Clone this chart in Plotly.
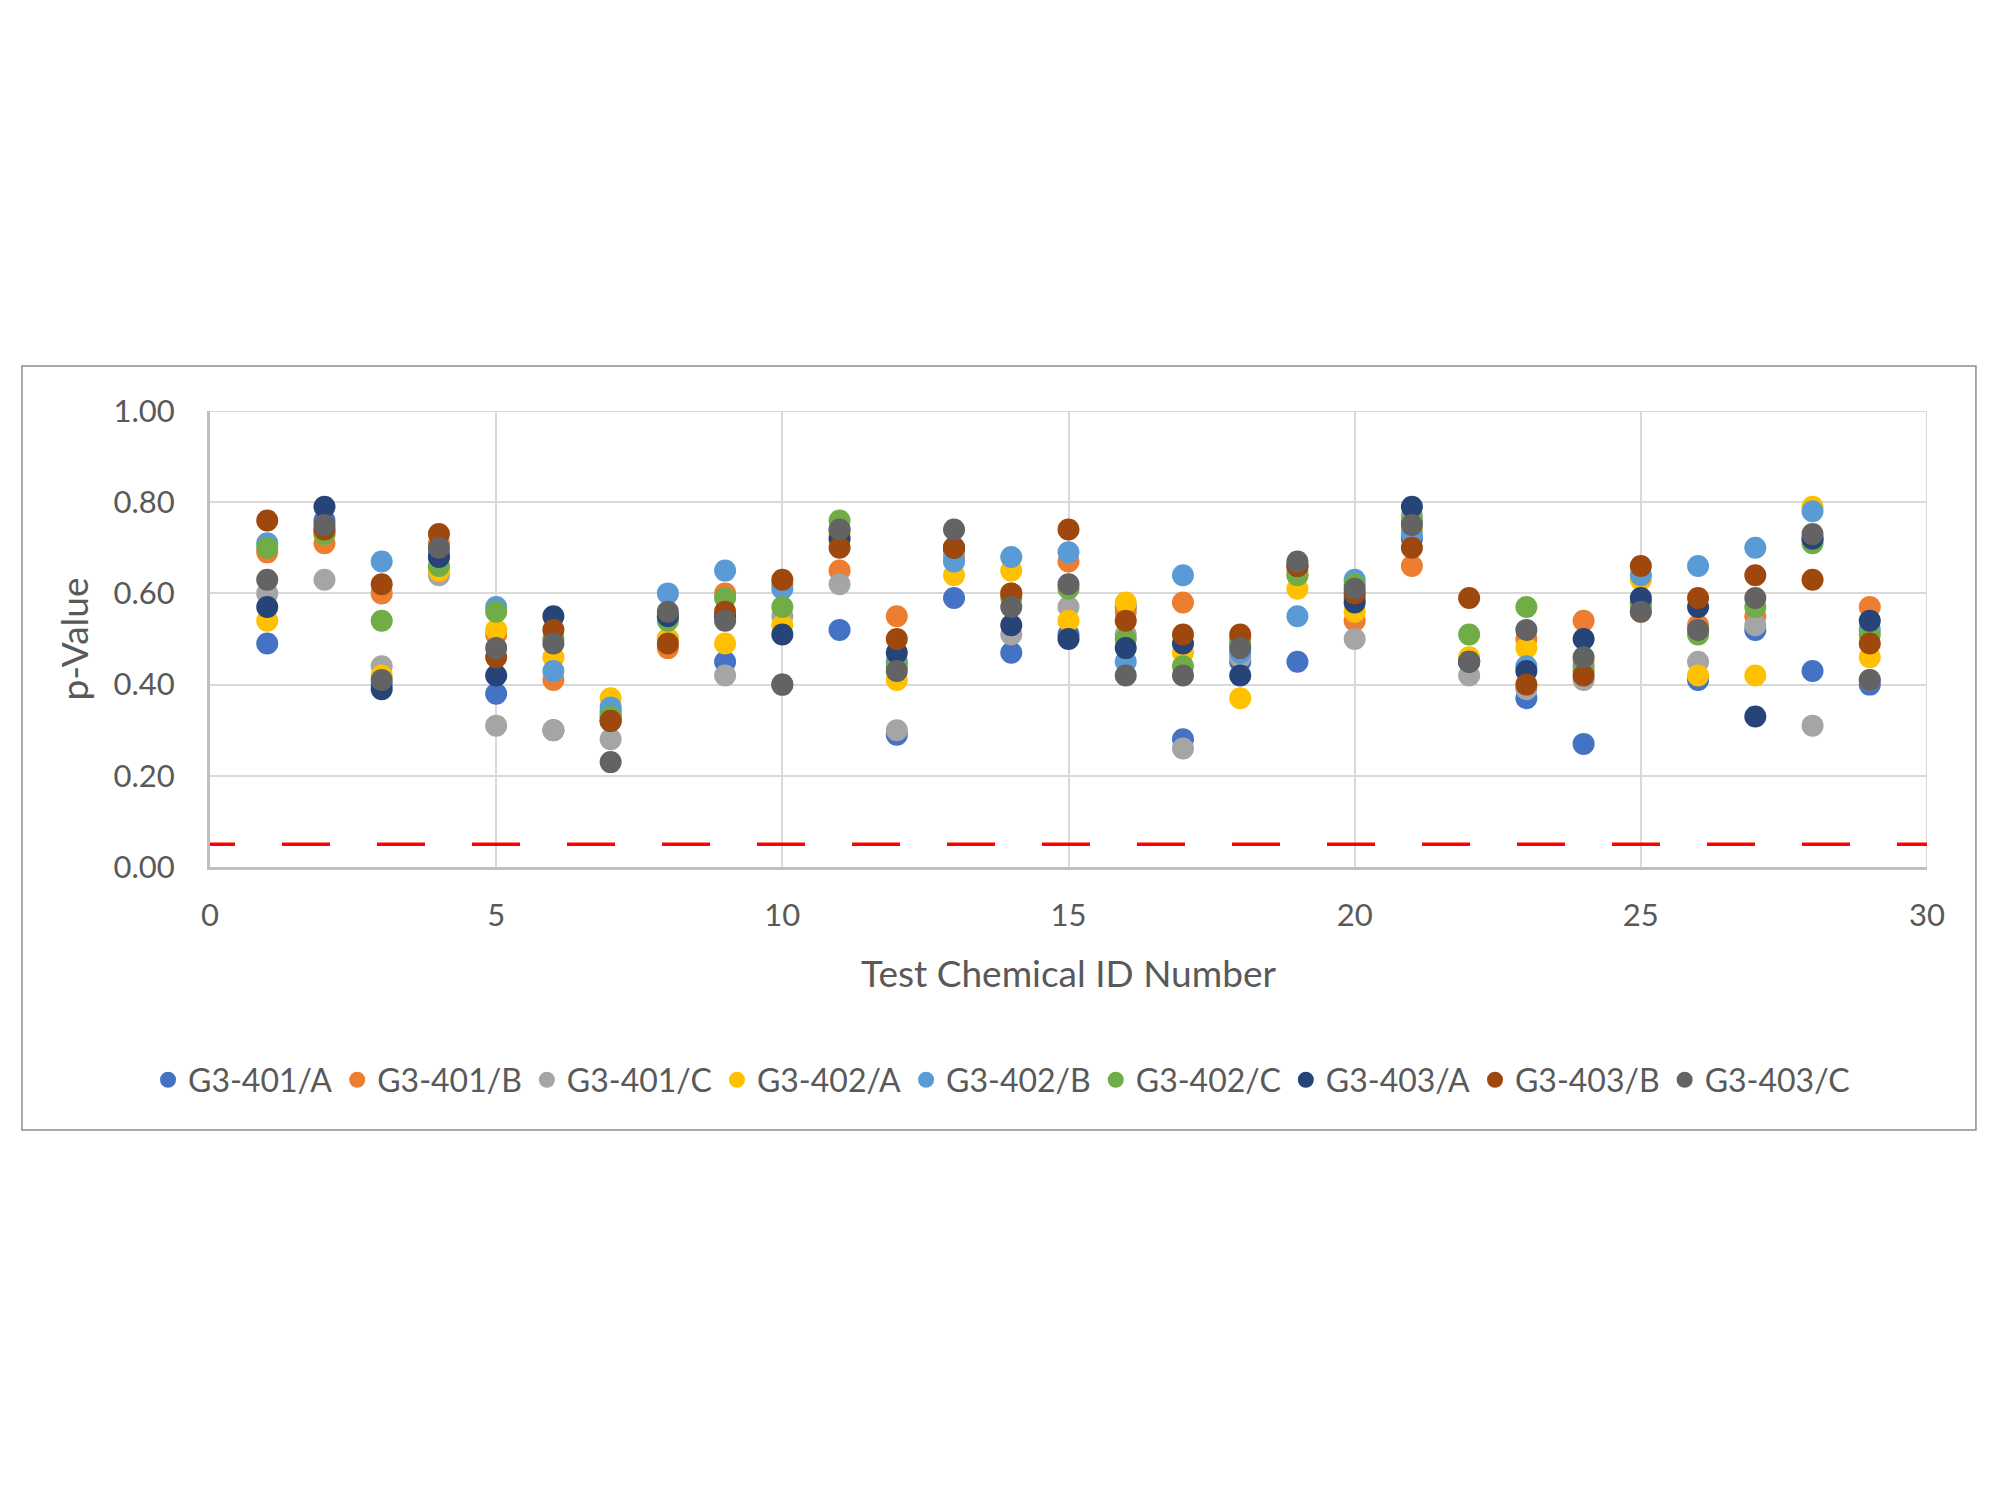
import plotly.graph_objects as go

chem_ids = list(range(1, 30))

series_names = ["G3-401/A", "G3-401/B", "G3-401/C", "G3-402/A", "G3-402/B",
                "G3-402/C", "G3-403/A", "G3-403/B", "G3-403/C"]
colors = ["#4472C4", "#ED7D31", "#A5A5A5", "#FFC000", "#5B9BD5",
          "#70AD47", "#264478", "#9E480E", "#636363"]

g401_a = [0.49, 0.76, 0.40, 0.68, 0.38, 0.30, 0.34, 0.50, 0.45, 0.40, 0.52, 0.29, 0.59, 0.47, 0.51,
          0.57, 0.28, 0.45, 0.45, 0.59, 0.72, 0.45, 0.37, 0.27, 0.58, 0.41, 0.52, 0.43, 0.40]
g401_b = [0.69, 0.71, 0.60, 0.71, 0.51, 0.41, 0.33, 0.48, 0.60, 0.62, 0.65, 0.55, 0.68, 0.60, 0.67,
          0.56, 0.58, 0.50, 0.64, 0.54, 0.66, 0.45, 0.50, 0.54, 0.56, 0.53, 0.55, 0.72, 0.57]
g401_c = [0.60, 0.63, 0.44, 0.64, 0.31, 0.30, 0.28, 0.55, 0.42, 0.55, 0.62, 0.30, 0.69, 0.51, 0.57,
          0.51, 0.26, 0.46, 0.65, 0.50, 0.77, 0.42, 0.39, 0.41, 0.57, 0.45, 0.53, 0.31, 0.41]
g402_a = [0.54, 0.73, 0.42, 0.65, 0.52, 0.46, 0.37, 0.50, 0.49, 0.53, 0.73, 0.41, 0.64, 0.65, 0.54,
          0.58, 0.47, 0.37, 0.61, 0.56, 0.74, 0.46, 0.48, 0.45, 0.63, 0.42, 0.42, 0.79, 0.46]
g402_b = [0.71, 0.74, 0.67, 0.69, 0.57, 0.43, 0.35, 0.60, 0.65, 0.61, 0.74, 0.45, 0.67, 0.68, 0.69,
          0.45, 0.64, 0.47, 0.55, 0.63, 0.73, 0.45, 0.44, 0.44, 0.64, 0.66, 0.70, 0.78, 0.52]
g402_c = [0.70, 0.73, 0.54, 0.66, 0.56, 0.50, 0.33, 0.54, 0.59, 0.57, 0.76, 0.44, 0.70, 0.59, 0.61,
          0.50, 0.44, 0.49, 0.64, 0.62, 0.76, 0.51, 0.57, 0.43, 0.58, 0.51, 0.57, 0.71, 0.51]
g403_a = [0.57, 0.79, 0.39, 0.68, 0.42, 0.55, 0.32, 0.55, 0.55, 0.51, 0.72, 0.47, 0.70, 0.53, 0.50,
          0.48, 0.49, 0.42, 0.66, 0.58, 0.79, 0.45, 0.43, 0.50, 0.59, 0.57, 0.33, 0.72, 0.54]
g403_b = [0.76, 0.74, 0.62, 0.73, 0.46, 0.52, 0.32, 0.49, 0.56, 0.63, 0.70, 0.50, 0.70, 0.60, 0.74,
          0.54, 0.51, 0.51, 0.66, 0.60, 0.70, 0.59, 0.40, 0.42, 0.66, 0.59, 0.64, 0.63, 0.49]
g403_c = [0.63, 0.75, 0.41, 0.70, 0.48, 0.49, 0.23, 0.56, 0.54, 0.40, 0.74, 0.43, 0.74, 0.57, 0.62,
          0.42, 0.42, 0.48, 0.67, 0.61, 0.75, 0.45, 0.52, 0.46, 0.56, 0.52, 0.59, 0.73, 0.41]

all_series = [g401_a, g401_b, g401_c, g402_a, g402_b, g402_c, g403_a, g403_b, g403_c]

threshold_x = [0, 30]
threshold_y = [0.05, 0.05]

FONT = "Lato"
TXT = "#595959"
GRID = "#D9D9D9"
AXIS = "#BFBFBF"

fig = go.Figure()
for name, col, vals in zip(series_names, colors, all_series):
    fig.add_trace(go.Scatter(x=chem_ids, y=vals, mode="markers", name=name,
                             marker=dict(color=col, size=22, line=dict(width=0))))

dash_pattern = "25px,47px," + ",".join(["48px,47px"] * 22)
fig.add_trace(go.Scatter(x=threshold_x, y=threshold_y, mode="lines", showlegend=False,
                         line=dict(color="#FF0000", width=3.5, dash=dash_pattern),
                         hoverinfo="skip"))

fig.update_layout(
    width=2000, height=1500,
    margin=dict(l=210, r=73, t=411, b=633),
    paper_bgcolor="white", plot_bgcolor="white",
    font=dict(family=FONT, color=TXT, size=31),
    showlegend=True,
    legend=dict(orientation="h", x=0.461, xanchor="center", y=-0.467, yanchor="middle",
                font=dict(size=32, color=TXT), itemsizing="trace",
                itemwidth=30, tracegroupgap=0, bgcolor="rgba(0,0,0,0)"),
    xaxis=dict(range=[0, 30], dtick=5, tick0=0, showgrid=True, gridcolor=GRID, gridwidth=2,
               zeroline=False, showline=True, linecolor=AXIS, linewidth=3,
               ticks="", ticklabelstandoff=19,
               tickfont=dict(size=31, color=TXT),
               title=dict(text="Test Chemical ID Number", font=dict(size=37, color=TXT), standoff=29)),
    yaxis=dict(range=[0, 1.0], dtick=0.2, tick0=0, tickformat=".2f", showgrid=True,
               gridcolor=GRID, gridwidth=2, zeroline=False, showline=True, linecolor=AXIS,
               linewidth=3, ticks="", ticklabelstandoff=26,
               tickfont=dict(size=31, color=TXT),
               title=dict(text="p-Value", font=dict(size=37, color=TXT), standoff=14)),
    shapes=[
        dict(type="rect", xref="paper", yref="paper", x0=-0.1095, x1=1.0285, y0=-0.5768, y1=1.0987,
             line=dict(color="#8C8C8C", width=1.5), fillcolor="rgba(0,0,0,0)", layer="below"),
        dict(type="line", xref="x", yref="paper", x0=30, x1=30, y0=0, y1=1,
             line=dict(color=GRID, width=2), layer="below"),
        dict(type="line", xref="paper", yref="y", x0=0, x1=1, y0=1, y1=1,
             line=dict(color=GRID, width=2), layer="below"),
    ],
)

fig.write_html("out.html")
